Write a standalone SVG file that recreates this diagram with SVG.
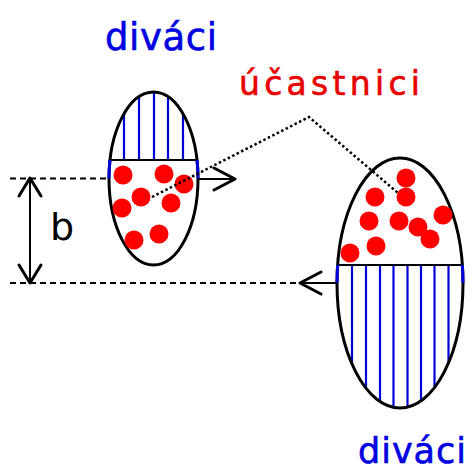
<svg xmlns="http://www.w3.org/2000/svg" width="476" height="472" viewBox="0 0 476 472">
<style>
.lbl{font-family:"DejaVu Sans","Liberation Sans",sans-serif}
.blue{fill:#0000e0;stroke:#0000e0;stroke-width:0.6}
.red{fill:#e80000;stroke:#e80000;stroke-width:0.6}
.hatch{stroke:#0000d8;stroke-width:2.2;fill:none}
.edge{stroke:#0000d8;stroke-width:3;fill:none}
.ell{fill:none;stroke:#000;stroke-width:3}
.div{stroke:#000;stroke-width:2.2}
.dot{fill:#ff0000}
.dash{stroke:#000;stroke-width:2;stroke-dasharray:6 4;fill:none}
.solid{stroke:#000;stroke-width:2;fill:none}
.head{stroke:#000;stroke-width:3;fill:none;stroke-linecap:round;stroke-linejoin:round}
.dotted{stroke:#000;stroke-width:2.5;stroke-dasharray:2.5 2.5;fill:none}
</style>
<defs>
<clipPath id="cs"><ellipse cx="153.5" cy="178.5" rx="44.5" ry="86.5"/></clipPath>
<clipPath id="cl"><ellipse cx="400" cy="283" rx="63" ry="125"/></clipPath>
</defs>
<rect width="476" height="472" fill="#fff"/>

<g id="small-group">
<g clip-path="url(#cs)" class="hatch">
<line x1="124" y1="88" x2="124" y2="160"/>
<line x1="139" y1="88" x2="139" y2="160"/>
<line x1="154" y1="88" x2="154" y2="160"/>
<line x1="168" y1="88" x2="168" y2="160"/>
<line x1="183" y1="88" x2="183" y2="160"/>
</g>
<ellipse class="ell" cx="153.5" cy="178.5" rx="44.5" ry="86.5"/>
<line class="div" x1="110" y1="160" x2="197" y2="160"/>
<path class="edge" d="M110 160 A44.5 86.5 0 0 0 109 178.5"/>
<path class="edge" d="M197 160 A44.5 86.5 0 0 1 198 178.5"/>
<g class="dot">
<circle cx="123" cy="175" r="9.5"/>
<circle cx="164" cy="174" r="9.5"/>
<circle cx="184" cy="184" r="9.5"/>
<circle cx="141" cy="197" r="9.5"/>
<circle cx="171" cy="203" r="9.5"/>
<circle cx="122" cy="208" r="9.5"/>
<circle cx="134" cy="240" r="9.5"/>
<circle cx="159" cy="234" r="9.5"/>
</g>
</g>

<g id="large-group">
<g clip-path="url(#cl)" class="hatch">
<line x1="352" y1="265" x2="352" y2="412"/>
<line x1="366" y1="265" x2="366" y2="412"/>
<line x1="380" y1="265" x2="380" y2="412"/>
<line x1="393.5" y1="265" x2="393.5" y2="412"/>
<line x1="407.5" y1="265" x2="407.5" y2="412"/>
<line x1="421" y1="265" x2="421" y2="412"/>
<line x1="434.5" y1="265" x2="434.5" y2="412"/>
<line x1="448.5" y1="265" x2="448.5" y2="412"/>
</g>
<ellipse class="ell" cx="400" cy="283" rx="63" ry="125"/>
<line class="div" x1="337.7" y1="265" x2="462.3" y2="265"/>
<path class="edge" d="M337.7 265 A63 125 0 0 0 337 283"/>
<path class="edge" d="M462.3 265 A63 125 0 0 1 463 283"/>
<g class="dot">
<circle cx="406" cy="178" r="9.5"/>
<circle cx="375" cy="197" r="9.5"/>
<circle cx="406" cy="197" r="9.5"/>
<circle cx="443" cy="215" r="9.5"/>
<circle cx="369" cy="221" r="9.5"/>
<circle cx="399" cy="221" r="9.5"/>
<circle cx="418" cy="227" r="9.5"/>
<circle cx="430" cy="239" r="9.5"/>
<circle cx="376" cy="246" r="9.5"/>
<circle cx="350" cy="253" r="9.5"/>
</g>
</g>

<g id="connectors">
<line class="dash" x1="10" y1="178.5" x2="108" y2="178.5"/>
<line class="dash" x1="10" y1="283" x2="300" y2="283"/>
<line class="solid" x1="198" y1="179" x2="234" y2="179"/>
<polyline class="head" points="214,168 235,179 214,190"/>
<line class="solid" x1="301" y1="283" x2="337" y2="283"/>
<polyline class="head" points="321,272 300,283 321,294"/>
<line class="solid" x1="30" y1="179" x2="30" y2="282"/>
<polyline class="head" points="19,196 30,178 41,196"/>
<polyline class="head" points="19,265 30,283 41,265"/>
<polyline class="dotted" points="152,197 309,117 398,193"/>
</g>

<g id="label-b"><text class="lbl" x="50" y="240" font-size="38" fill="#000">b</text></g>
<g id="label-divaci-top"><text class="lbl blue" x="105" y="50" font-size="37" textLength="112" lengthAdjust="spacing">diváci</text></g>
<g id="label-ucastnici"><text class="lbl red" x="239" y="95" font-size="33" textLength="181" lengthAdjust="spacing">účastnici</text></g>
<g id="label-divaci-bottom"><text class="lbl blue" x="358" y="463" font-size="35" textLength="108" lengthAdjust="spacing">diváci</text></g>
</svg>
